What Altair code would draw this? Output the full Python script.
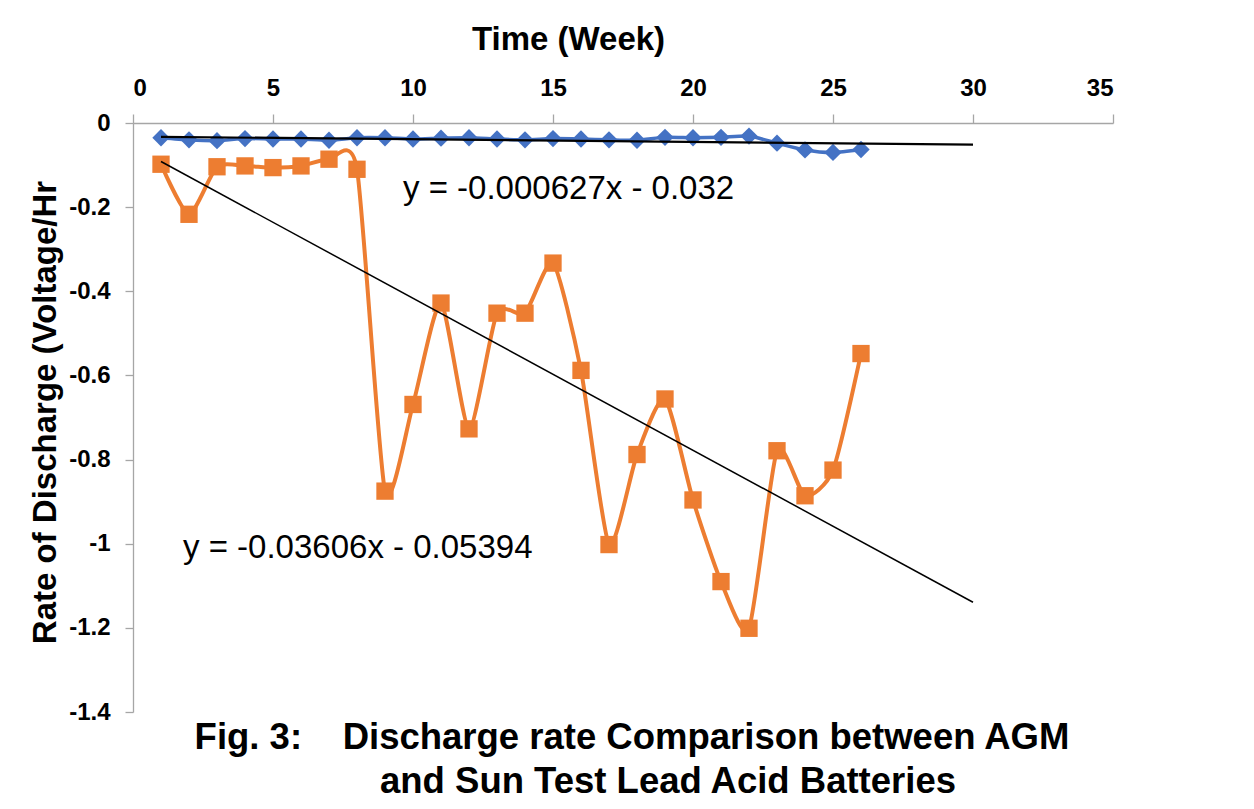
import altair as alt
import pandas as pd

# ---- data ----
weeks = list(range(1, 27))
agm_rate = [-0.035, -0.040, -0.042, -0.037, -0.038, -0.038, -0.041, -0.035, -0.035, -0.038,
            -0.036, -0.035, -0.038, -0.040, -0.037, -0.038, -0.040, -0.041, -0.034, -0.035,
            -0.034, -0.031, -0.048, -0.064, -0.070, -0.063]
sun_rate = [-0.098, -0.217, -0.104, -0.102, -0.106, -0.102, -0.086, -0.110, -0.875, -0.669,
            -0.428, -0.727, -0.452, -0.452, -0.333, -0.588, -1.002, -0.788, -0.656, -0.896,
            -1.090, -1.201, -0.779, -0.886, -0.825, -0.548]
x_ticks = [0, 5, 10, 15, 20, 25, 30, 35]
y_ticks = [0, -0.2, -0.4, -0.6, -0.8, -1, -1.2, -1.4]
trend_extent = [1, 30]
equation_labels = ["y = -0.000627x - 0.032", "y = -0.03606x - 0.05394"]
caption_lines = ["Fig. 3:\u00a0\u00a0\u00a0 Discharge rate Comparison between AGM",
                 "and Sun Test Lead Acid Batteries"]
x_title = "Time (Week)"
y_title = "Rate of Discharge (Voltage/Hr"

FONT = "Liberation Sans"
BLUE = "#4472C4"
ORANGE = "#ED7D31"
AXIS_GRAY = "#A6A6A6"

agm = pd.DataFrame({"week": weeks, "rate": agm_rate})
sun = pd.DataFrame({"week": weeks, "rate": sun_rate})

x_enc = alt.X("week:Q",
              scale=alt.Scale(domain=[0, 35], nice=False, zero=False),
              axis=alt.Axis(orient="top", values=x_ticks, title=x_title,
                            grid=False, domainColor=AXIS_GRAY, domainWidth=1.3,
                            tickColor=AXIS_GRAY, tickWidth=1.3, tickSize=9,
                            labelFont=FONT, labelFontSize=24, labelFontWeight="bold",
                            labelColor="black", labelPadding=14,
                            titleFont=FONT, titleFontSize=33, titleFontWeight="bold",
                            titleColor="black", titleX=435, titleY=-74,
                            titleAlign="center", titleBaseline="alphabetic"))
y_enc = alt.Y("rate:Q",
              scale=alt.Scale(domain=[-1.4, 0], nice=False, zero=False),
              axis=alt.Axis(orient="left", values=y_ticks, title=y_title,
                            grid=False, domainColor=AXIS_GRAY, domainWidth=1.3,
                            tickColor=AXIS_GRAY, tickWidth=1.3, tickSize=8,
                            labelExpr="toString(datum.value)",
                            labelFont=FONT, labelFontSize=24, labelFontWeight="bold",
                            labelColor="black", labelPadding=15,
                            titleFont=FONT, titleFontSize=33, titleFontWeight="bold",
                            titleColor="black", titleX=-78, titleY=289, titleAngle=270,
                            titleAlign="center", titleBaseline="alphabetic"))

sun_line = alt.Chart(sun).mark_line(color=ORANGE, strokeWidth=4, interpolate="cardinal",
                                     tension=0.35).encode(x=x_enc, y=y_enc)
sun_pts = alt.Chart(sun).mark_point(shape="square", filled=True, size=300, color=ORANGE,
                                    opacity=1).encode(x="week:Q", y="rate:Q")
agm_line = alt.Chart(agm).mark_line(color=BLUE, strokeWidth=3.5, interpolate="cardinal",
                                     tension=0.35).encode(x="week:Q", y="rate:Q")
agm_pts = alt.Chart(agm).mark_point(shape="diamond", filled=True, size=300, color=BLUE,
                                    opacity=1).encode(x="week:Q", y="rate:Q")

agm_trend = alt.Chart(agm).transform_regression(
    "week", "rate", method="linear", extent=trend_extent
).mark_line(color="black", strokeWidth=2.2).encode(x="week:Q", y="rate:Q")
sun_trend = alt.Chart(sun).transform_regression(
    "week", "rate", method="linear", extent=trend_extent
).mark_line(color="black", strokeWidth=1.5).encode(x="week:Q", y="rate:Q")

eq1 = alt.Chart(pd.DataFrame({"t": [equation_labels[0]]})).mark_text(
    font=FONT, fontSize=33, color="black", align="left", baseline="alphabetic"
).encode(text="t:N", x=alt.value(270), y=alt.value(76))
eq2 = alt.Chart(pd.DataFrame({"t": [equation_labels[1]]})).mark_text(
    font=FONT, fontSize=33, color="black", align="left", baseline="alphabetic"
).encode(text="t:N", x=alt.value(50), y=alt.value(435))

cap1 = alt.Chart(pd.DataFrame({"t": [caption_lines[0]]})).mark_text(
    font=FONT, fontSize=36.5, fontWeight="bold", color="black", align="center",
    baseline="alphabetic"
).encode(text="t:N", x=alt.value(499), y=alt.value(626))
cap2 = alt.Chart(pd.DataFrame({"t": [caption_lines[1]]})).mark_text(
    font=FONT, fontSize=36.5, fontWeight="bold", color="black", align="center",
    baseline="alphabetic"
).encode(text="t:N", x=alt.value(535), y=alt.value(670))

chart = alt.layer(
    sun_line, sun_pts, agm_line, agm_pts, agm_trend, sun_trend, eq1, eq2, cap1, cap2
).properties(
    width=980, height=589,
    autosize=alt.AutoSizeParams(type="none"),
    padding={"left": 125, "top": 115, "right": 120, "bottom": 88},
    background="white",
).configure_view(stroke=None)

chart.save("out.html", embed_options={"renderer": "svg", "actions": False})
